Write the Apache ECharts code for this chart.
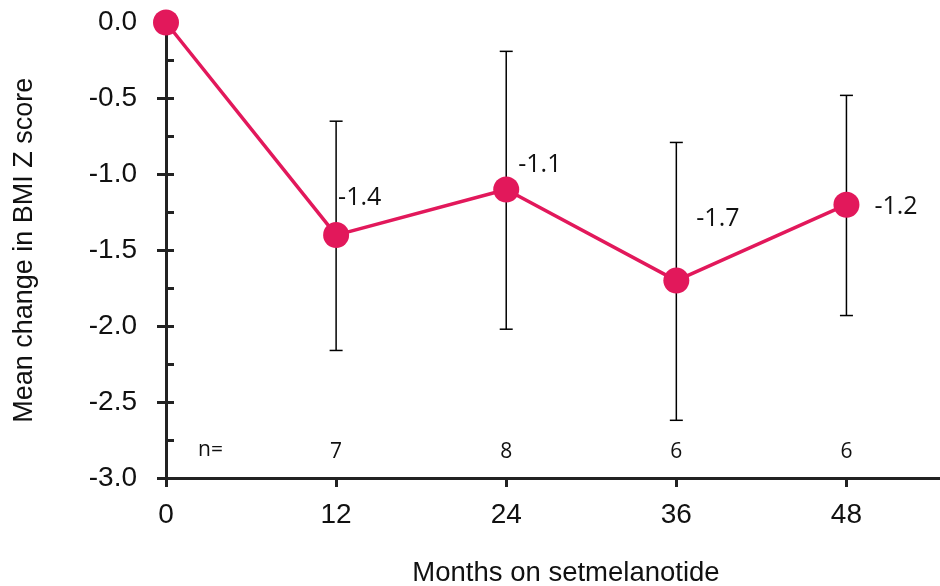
<!DOCTYPE html>
<html>
<head>
<meta charset="utf-8">
<script src="https://cdn.jsdelivr.net/npm/echarts@6/dist/echarts.min.js"></script>
<style>
  html, body { margin: 0; padding: 0; background: #fff; }
  #chart { width: 940px; height: 586px; }
</style>
</head>
<body>
<div id="chart"></div>
<script>
// data
var months = [0, 12, 24, 36, 48];
var meanChange = [0.0, -1.4, -1.1, -1.7, -1.2];
var errUpper = [null, -0.65, -0.19, -0.79, -0.48];
var errLower = [null, -2.16, -2.02, -2.62, -1.93];
var nCounts = [null, 7, 8, 6, 6];
var xTickValues = [0, 12, 24, 36, 48];

// layout only: where each value label sits relative to its point
var labelOffsets = [null, [-11, -37], [-1, -25], [7, -62], [15, 2]];
var nRowY = -2.83;

var pink = '#E2185B';
var axisColor = '#222';

var chart = echarts.init(document.getElementById('chart'));

var errData = [];
months.forEach(function (m, i) {
  if (errUpper[i] != null) errData.push([m, errUpper[i], errLower[i]]);
});

var nData = [];
months.forEach(function (m, i) {
  if (nCounts[i] != null) nData.push([m, nRowY, nCounts[i]]);
});

var option = {
  animation: false,
  backgroundColor: '#fff',
  grid: {
    left: 166,
    right: 0,
    top: 22.5,
    bottom: 108,
    outerBoundsMode: 'none'
  },
  xAxis: {
    type: 'value',
    min: 0,
    max: 54.6,
    interval: 12,
    name: 'Months on setmelanotide',
    nameLocation: 'middle',
    nameGap: 81,
    nameTextStyle: {
      fontFamily: 'Liberation Sans',
      fontSize: 27.5,
      color: '#111',
      padding: [0, 0, 0, 26]
    },
    axisLine: { show: true, onZero: false, lineStyle: { color: axisColor, width: 3 } },
    axisTick: { show: true, inside: false, length: 9, customValues: xTickValues, lineStyle: { color: axisColor, width: 3 } },
    axisLabel: {
      customValues: xTickValues,
      fontFamily: 'Liberation Sans',
      fontSize: 28,
      color: '#111',
      margin: 23
    },
    splitLine: { show: false }
  },
  yAxis: [
    {
      type: 'value',
      min: -3,
      max: 0,
      interval: 0.5,
      name: 'Mean change in BMI Z score',
      nameLocation: 'middle',
      nameGap: 128,
      nameTextStyle: {
        fontFamily: 'Liberation Sans',
        fontSize: 27,
        color: '#111'
      },
      axisLine: { show: true, onZero: false, lineStyle: { color: axisColor, width: 3 } },
      axisTick: { show: true, inside: false, length: 9, lineStyle: { color: axisColor, width: 3 } },
      axisLabel: {
        fontFamily: 'Liberation Sans',
        fontSize: 28,
        color: '#111',
        margin: 29,
        formatter: function (v) { return v.toFixed(1); }
      },
      splitLine: { show: false }
    },
    {
      // inner ticks (major + minor) on the same scale
      type: 'value',
      min: -3,
      max: 0,
      interval: 0.25,
      position: 'left',
      axisLine: { show: false },
      axisTick: { show: true, inside: true, length: 8, lineStyle: { color: axisColor, width: 3 } },
      axisLabel: { show: false },
      splitLine: { show: false }
    }
  ],
  graphic: [
    {
      type: 'text',
      left: 198,
      top: 440,
      style: {
        text: 'n=',
        fontFamily: 'Open Sans',
        fontSize: 21,
        fill: '#111'
      }
    }
  ],
  series: [
    {
      type: 'custom',
      name: 'error',
      z: 1,
      clip: false,
      data: errData,
      renderItem: function (params, api) {
        var x = api.value(0);
        var top = api.coord([x, api.value(1)]);
        var bot = api.coord([x, api.value(2)]);
        var w = 6.5;
        var st = { stroke: '#000', lineWidth: 1.5 };
        return {
          type: 'group',
          children: [
            { type: 'line', shape: { x1: top[0], y1: top[1], x2: bot[0], y2: bot[1] }, style: st },
            { type: 'line', shape: { x1: top[0] - w, y1: top[1], x2: top[0] + w, y2: top[1] }, style: st },
            { type: 'line', shape: { x1: bot[0] - w, y1: bot[1], x2: bot[0] + w, y2: bot[1] }, style: st }
          ]
        };
      }
    },
    {
      type: 'line',
      name: 'mean',
      z: 3,
      clip: false,
      symbol: 'circle',
      symbolSize: 26,
      lineStyle: { color: pink, width: 3.5 },
      itemStyle: { color: pink },
      label: {
        show: true,
        position: 'right',
        distance: 0,
        fontFamily: 'Open Sans',
        fontSize: 25,
        color: '#111',
        formatter: function (p) { return p.value[1].toFixed(1); }
      },
      data: months.map(function (m, i) {
        return {
          value: [m, meanChange[i]],
          label: labelOffsets[i] ? { show: true, offset: labelOffsets[i] } : { show: false }
        };
      })
    },
    {
      // sample sizes under each visit
      type: 'custom',
      name: 'n',
      z: 2,
      clip: false,
      data: nData,
      renderItem: function (params, api) {
        var p = api.coord([api.value(0), api.value(1)]);
        return {
          type: 'text',
          x: p[0],
          y: p[1],
          style: {
            text: String(api.value(2)),
            fontFamily: 'Open Sans',
            fontSize: 21,
            fill: '#111',
            align: 'center',
            verticalAlign: 'middle'
          }
        };
      }
    }
  ]
};

chart.setOption(option);
</script>
</body>
</html>
